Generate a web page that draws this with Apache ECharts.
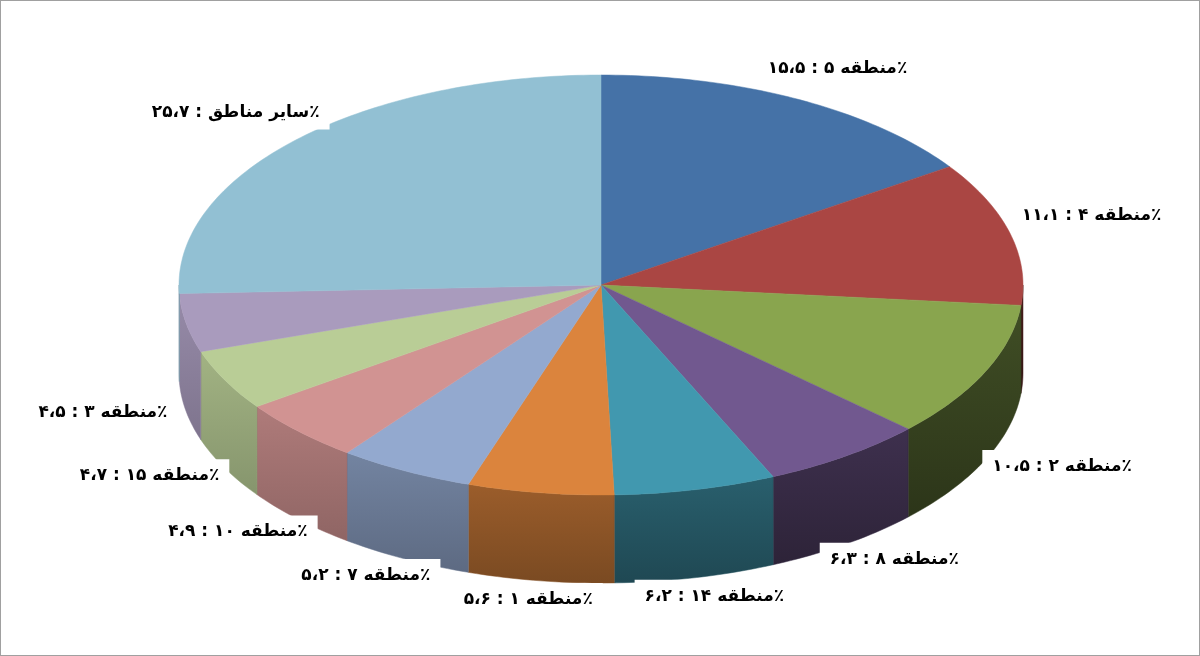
<!DOCTYPE html>
<html>
<head>
<meta charset="utf-8">
<script src="https://cdn.jsdelivr.net/npm/echarts@6/dist/echarts.min.js"></script>
<style>
html, body { margin: 0; padding: 0; background: #fff; }
#main { width: 1198px; height: 654px; border: 1px solid #a0a0a0; }
</style>
</head>
<body>
<div id="main"></div>
<script>
'use strict';

var regions = ['منطقه ۵', 'منطقه ۴', 'منطقه ۲', 'منطقه ۸', 'منطقه ۱۴', 'منطقه ۱', 'منطقه ۷', 'منطقه ۱۰', 'منطقه ۱۵', 'منطقه ۳', 'سایر مناطق'];
var shares = [15.5, 11.1, 10.5, 6.3, 6.2, 5.6, 5.2, 4.9, 4.7, 4.5, 25.7];
var colors = ['#4572a7', '#aa4643', '#89a54e', '#71588f', '#4198af', '#db843d', '#93a9cf', '#d19392', '#b9cd96', '#a99bbd', '#92c0d3'];

var total = shares.reduce(function (a, b) { return a + b; }, 0);

function fa(v) {
    return String(v).replace(/\./g, '،').replace(/[0-9]/g, function (d) {
        return '۰۱۲۳۴۵۶۷۸۹'[+d];
    });
}

function darken(hex, f) {
    var n = parseInt(hex.slice(1), 16);
    var r = Math.round(((n >> 16) & 255) * (1 - f));
    var g = Math.round(((n >> 8) & 255) * (1 - f));
    var b = Math.round((n & 255) * (1 - f));
    return 'rgb(' + r + ',' + g + ',' + b + ')';
}

var chart = echarts.init(document.getElementById('main'));

function renderItem(params, api) {
    var i = params.dataIndex;
    var cx = 600, cy = 284, rx = 422, ry = 210, depth = 88;
    var before = 0;
    for (var k = 0; k < i; k++) before += shares[k];
    var a1 = before / total * 360;
    var a2 = (before + shares[i]) / total * 360;
    function pt(deg, dy) {
        var t = deg * Math.PI / 180;
        return [cx + rx * Math.sin(t), cy - ry * Math.cos(t) + (dy || 0)];
    }
    var children = [];
    // side wall (front half only)
    var s1 = Math.max(a1, 90), s2 = Math.min(a2, 270);
    if (s2 > s1) {
        var top = [], bot = [];
        for (var d = s1; d < s2; d += 1) { top.push(pt(d)); bot.push(pt(d, depth)); }
        top.push(pt(s2)); bot.push(pt(s2, depth));
        var midS = (s1 + s2) / 2 * Math.PI / 180;
        var f = 0.2 + 0.45 * (Math.sin(midS) + 1) / 2;
        children.push({
            type: 'polygon',
            shape: { points: top.concat(bot.reverse()) },
            style: {
                fill: new echarts.graphic.LinearGradient(0, 0, 0, 1, [
                    { offset: 0, color: darken(colors[i], f - 0.1) },
                    { offset: 1, color: darken(colors[i], f + 0.05) }
                ]),
                stroke: darken(colors[i], f), lineWidth: 0.5
            }
        });
    }
    // top sector
    var pts = [[cx, cy]];
    for (var e = a1; e < a2; e += 1) pts.push(pt(e));
    pts.push(pt(a2));
    children.push({
        type: 'polygon',
        shape: { points: pts },
        style: { fill: colors[i], stroke: colors[i], lineWidth: 0.5 }
    });
    // label
    var mid = (a1 + a2) / 2;
    var t = mid * Math.PI / 180;
    var lx = cx + rx * 1.2 * Math.sin(t);
    var ly = cy - ry * 1.1 * Math.cos(t) - 12;
    if (Math.cos(t) < 0) ly += depth + 10;
    children.push({
        type: 'text',
        x: lx, y: ly,
        style: {
            text: regions[i] + ' : ' + fa(shares[i]) + '٪',
            align: 'center', verticalAlign: 'middle',
            fill: '#000', font: 'bold 17px "DejaVu Sans"',
            backgroundColor: '#fff', padding: [8, 10],
            boxShadowBlur: 6, boxShadowColor: 'rgba(0,0,0,0.45)',
            boxShadowOffsetX: 3, boxShadowOffsetY: 3
        }
    });
    return { type: 'group', children: children };
}

chart.setOption({
    backgroundColor: '#fff',
    animation: false,
    series: [{
        type: 'custom',
        coordinateSystem: 'none',
        renderItem: renderItem,
        data: shares.map(function (v, i) { return [i, v]; })
    }]
});
</script>
</body>
</html>
